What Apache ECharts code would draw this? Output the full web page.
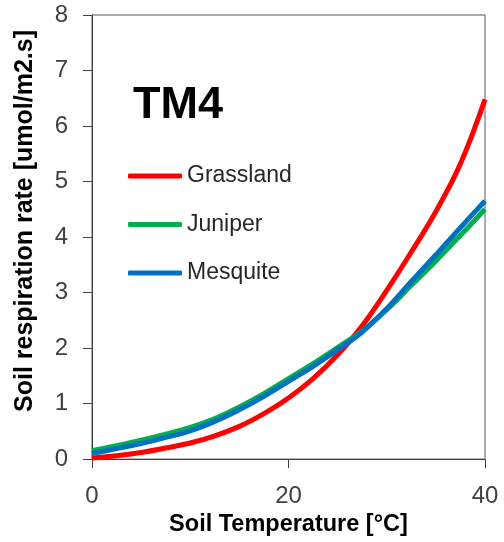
<!DOCTYPE html>
<html>
<head>
<meta charset="utf-8">
<style>
  html, body { margin: 0; padding: 0; background: #fff; }
  #chart { width: 504px; height: 542px; }
</style>
<script src="https://cdn.jsdelivr.net/npm/echarts@6/dist/echarts.min.js"></script>
</head>
<body>
<div id="chart"></div>
<script>
// Soil temperature (°C) sample points
const temperature = [0, 2.5, 5, 7.5, 10, 12.5, 15, 17.5, 20, 22.5, 25, 27.5, 30, 32.5, 35, 37.5, 40];

// Soil respiration rate (umol/m2.s) for each cover type
const grassland = [0.02, 0.06, 0.12, 0.20, 0.29, 0.42, 0.59, 0.82, 1.10, 1.45, 1.88, 2.40, 3.04, 3.73, 4.46, 5.32, 6.48];
const juniper   = [0.15, 0.24, 0.34, 0.45, 0.57, 0.73, 0.94, 1.18, 1.45, 1.72, 2.01, 2.31, 2.69, 3.13, 3.57, 4.03, 4.50];
const mesquite  = [0.10, 0.19, 0.28, 0.39, 0.51, 0.68, 0.89, 1.13, 1.40, 1.67, 1.97, 2.29, 2.71, 3.20, 3.68, 4.17, 4.65];

const seriesNames = ['Grassland', 'Juniper', 'Mesquite'];
const seriesColors = ['#FF0000', '#00B050', '#0070C0'];
const seriesValues = [grassland, juniper, mesquite];

const FONT = 'Liberation Sans';

const chart = echarts.init(document.getElementById('chart'), null, { renderer: 'canvas' });

chart.setOption({
  animation: false,
  backgroundColor: '#ffffff',
  grid: {
    left: 92, right: 19, top: 15, bottom: 81,
    show: true, borderColor: '#595959', borderWidth: 1
  },
  xAxis: {
    type: 'value', min: 0, max: 40, interval: 20,
    name: 'Soil Temperature [°C]',
    nameLocation: 'middle', nameGap: 49,
    nameTextStyle: { fontFamily: FONT, fontSize: 23.5, fontWeight: 'bold', color: '#000' },
    axisLine: { show: true, lineStyle: { color: '#404040', width: 1 } },
    axisTick: { show: true, inside: false, length: 9, lineStyle: { color: '#404040' } },
    axisLabel: { fontFamily: FONT, fontSize: 24, color: '#404040', margin: 25 },
    splitLine: { show: false }
  },
  yAxis: {
    type: 'value', min: 0, max: 8, interval: 1,
    axisLine: { show: true, lineStyle: { color: '#404040', width: 1 } },
    axisTick: { show: true, inside: false, length: 9, lineStyle: { color: '#404040' } },
    axisLabel: { fontFamily: FONT, fontSize: 24, color: '#404040', margin: 24 },
    splitLine: { show: false }
  },
  legend: {
    orient: 'vertical', left: 128, top: 164.5, padding: 0,
    itemWidth: 54, itemHeight: 5, itemGap: 25.5,
    icon: 'roundRect',
    textStyle: { fontFamily: FONT, fontSize: 23, color: '#262626' },
    data: seriesNames
  },
  graphic: [
    {
      type: 'text', left: 133, top: 83,
      style: { text: 'TM4', font: 'bold 45px ' + FONT, fill: '#000' }
    },
    {
      type: 'text', x: 25, y: 221, rotation: Math.PI / 2,
      style: {
        text: 'Soil respiration rate [umol/m2.s]',
        font: 'bold 25px ' + FONT, fill: '#000',
        align: 'center', verticalAlign: 'middle'
      }
    }
  ],
  series: seriesNames.map((name, i) => ({
    name: name,
    type: 'line',
    data: temperature.map((t, k) => [t, seriesValues[i][k]]),
    smooth: 0.4,
    showSymbol: false,
    symbol: 'none',
    clip: true,
    lineStyle: { color: seriesColors[i], width: 5 },
    itemStyle: { color: seriesColors[i] }
  }))
});
</script>
</body>
</html>
